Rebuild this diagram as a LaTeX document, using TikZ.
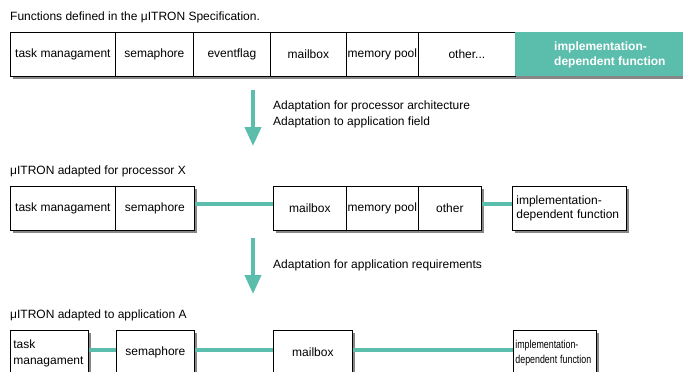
\documentclass[tikz,border=0pt]{standalone}
\usepackage{fontspec}
\setmainfont{Liberation Sans}
\usetikzlibrary{arrows.meta,shadows}
\definecolor{tealc}{RGB}{91,190,173}
\definecolor{shgray}{RGB}{135,135,135}
\begin{document}
\begin{tikzpicture}[x=1pt,y=-1pt,
  every node/.style={font=\fontsize{12}{15}\selectfont},
  cell/.style={draw=black, line width=0.8pt, fill=white, minimum height=44pt,
    inner sep=0pt, anchor=north west,
    drop shadow={shadow xshift=3pt, shadow yshift=-3pt, fill=shgray, opacity=1}},
  tealcell/.style={cell, draw=none, fill=tealc, text=white, align=left,
    font=\fontsize{12}{15}\selectfont\bfseries},
  leftcell/.style={cell, align=left, inner xsep=4pt},
  label/.style={anchor=west, inner sep=0pt, align=left},
  conn/.style={tealc, line width=4pt},
  bigarrow/.style={tealc, line width=4pt, -{Triangle[width=16pt,length=19pt]}}]
\useasboundingbox (0,0) rectangle (683,372);
\clip (0,0) rectangle (683,372);

% Row 1
\node[label] (title1) at (10,17) {Functions defined in the μITRON Specification.};
\node[cell, minimum width=105pt] (r1a) at (10,32) {task managament};
\node[cell, minimum width=78pt] (r1b) at (115,32) {semaphore};
\node[cell, minimum width=77pt] (r1c) at (193,32) {eventflag};
\node[cell, minimum width=76pt] (r1d) at (270,32) {mailbox};
\node[cell, minimum width=72pt] (r1e) at (346,32) {memory pool};
\node[cell, minimum width=97pt] (r1f) at (418,32) {other...};
\node[tealcell, minimum width=175pt] (r1g) at (515,32) {};
\node[label, text=white, font=\fontsize{12}{15}\selectfont\bfseries] (r1gt) at (554,54.5) {implementation-\\dependent function};

% Arrow 1
\coordinate (a1s) at (253,90);
\coordinate (a1e) at (253,146);
\draw[bigarrow] (a1s) -- (a1e);
\node[label, font=\fontsize{12}{16}\selectfont] (ad1) at (273,114) {Adaptation for processor architecture\\Adaptation to application field};

% Row 2
\node[label] (title2) at (10,171) {μITRON adapted for processor X};
\node[cell, minimum width=105pt] (r2a) at (10,186) {task managament};
\node[cell, minimum width=79pt] (r2b) at (115,186) {semaphore};
\node[cell, minimum width=73pt] (r2c) at (273,186) {mailbox};
\node[cell, minimum width=72pt] (r2d) at (346,186) {memory pool};
\node[cell, minimum width=63pt] (r2e) at (418,186) {other};
\node[leftcell, text width=106pt, font=\fontsize{12}{14}\selectfont] (r2f) at (512,186) {implementation-\\dependent function};
\draw[conn] ([yshift=4pt]r2b.east) -- ([yshift=4pt]r2c.west);
\draw[conn] ([yshift=4pt]r2e.east) -- ([yshift=4pt]r2f.west);

% Arrow 2
\coordinate (a2s) at (253,238);
\coordinate (a2e) at (253,294);
\draw[bigarrow] (a2s) -- (a2e);
\node[label] (ad2) at (273,265) {Adaptation for application requirements};

% Row 3
\node[label] (title3) at (10,315) {μITRON adapted to application A};
\node[leftcell, inner xsep=3pt, text width=72pt, minimum height=46pt, font=\fontsize{12}{16}\selectfont] (r3a) at (10,330) {task\\managament};
\node[cell, minimum width=78pt] (r3b) at (116,330) {semaphore};
\node[cell, minimum width=79pt] (r3c) at (273,330) {mailbox};
\node[leftcell, inner xsep=2pt, text width=79pt, minimum height=46pt, font=\fontsize{11.5}{15}\selectfont] (r3d) at (513,330) {\scalebox{0.77}[1]{implementation-}\\\scalebox{0.77}[1]{dependent function}};
\draw[conn] ([yshift=2pt]r3b.west -| r3a.east) -- ([yshift=2pt]r3b.west);
\draw[conn] ([yshift=2pt]r3b.east) -- ([yshift=2pt]r3c.west);
\draw[conn] ([yshift=2pt]r3c.east) -- ([yshift=2pt]r3c.east -| r3d.west);
\end{tikzpicture}
\end{document}
